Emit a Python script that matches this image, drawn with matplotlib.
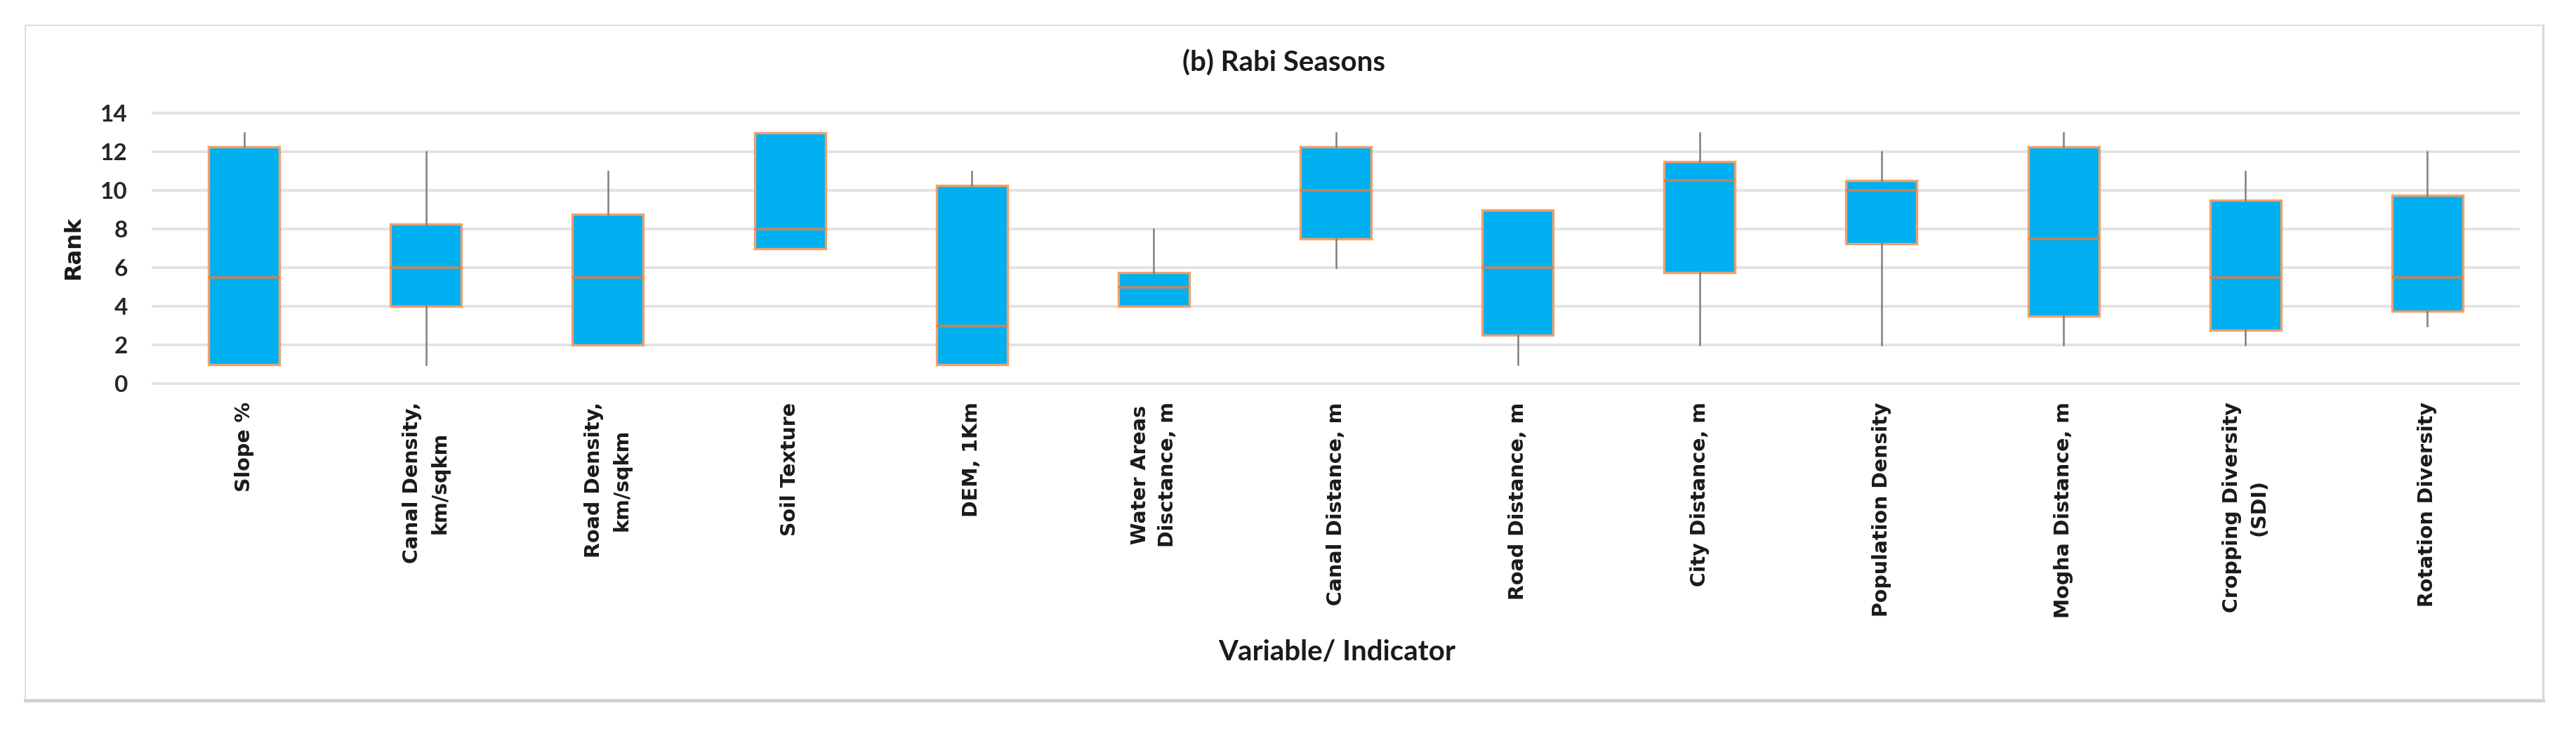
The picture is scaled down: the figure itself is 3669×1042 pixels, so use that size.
import matplotlib
matplotlib.use("Agg")
import matplotlib.pyplot as plt
from matplotlib.patches import Rectangle
from matplotlib.lines import Line2D

categories = ["Slope %", "Canal Density,\nkm/sqkm", "Road Density,\nkm/sqkm", "Soil Texture",
              "DEM, 1Km", "Water Areas\nDisctance, m", "Canal Distance, m", "Road Distance, m",
              "City Distance, m", "Population Density", "Mogha Distance, m",
              "Cropping Diversity\n(SDI)", "Rotation Diversity"]
whis_low = [1, 1, 2, 7, 1, 4, 6, 1, 2, 2, 2, 2, 3]
q1 = [1, 4, 2, 7, 1, 4, 7.5, 2.5, 5.75, 7.25, 3.5, 2.75, 3.75]
median = [5.5, 6, 5.5, 8, 3, 5, 10, 6, 10.5, 10, 7.5, 5.5, 5.5]
q3 = [12.25, 8.25, 8.75, 13, 10.25, 5.75, 12.25, 9, 11.5, 10.5, 12.25, 9.5, 9.75]
whis_high = [13, 12, 11, 13, 11, 8, 13, 9, 13, 12, 13, 11, 12]
yticks = [0, 2, 4, 6, 8, 10, 12, 14]

W, H = 3669, 1042
fig = plt.figure(figsize=(W / 100, H / 100), dpi=100)
fig.patch.set_facecolor("white")

# outer frame
fig.add_artist(Rectangle((36 / W, 1 - 997 / H), (3622 - 36) / W, (997 - 36) / H,
                         transform=fig.transFigure, fill=False, edgecolor="#D9D9D9", lw=1.2))
fig.add_artist(Line2D([36 / W, 3622 / W], [1 - 997 / H, 1 - 997 / H], transform=fig.transFigure,
                      color="#D0D0D0", lw=3.5))
fig.add_artist(Line2D([3622 / W, 3622 / W], [1 - 997 / H, 1 - 36 / H], transform=fig.transFigure,
                      color="#D9D9D9", lw=2.2))

ax = fig.add_axes([218 / W, 1 - 546 / H, (3587 - 218) / W, (546 - 161) / H])

stats = []
for i in range(len(categories)):
    stats.append(dict(whislo=whis_low[i], q1=q1[i], med=median[i], q3=q3[i],
                      whishi=whis_high[i], fliers=[], label=categories[i]))

ax.bxp(stats, positions=list(range(len(categories))), widths=0.39, patch_artist=True,
       showcaps=False, showfliers=False,
       boxprops=dict(facecolor="#00B0F0", edgecolor="#F0A06C", linewidth=2.4),
       medianprops=dict(color="#C0875E", linewidth=2.6),
       whiskerprops=dict(color="#7F7F7F", linewidth=1.8),
       zorder=3)

ax.set_xlim(-0.5, len(categories) - 0.5)
ax.set_ylim(0, 14)
ax.set_yticks(yticks)
ax.yaxis.grid(True, color="#E3E3E3", linewidth=2.8)
for gl in ax.get_ygridlines():
    gl.set_clip_on(False)
ax.set_axisbelow(True)
for s in ax.spines.values():
    s.set_visible(False)
ax.tick_params(axis="both", length=0)
ax.tick_params(axis="y", pad=26)
ax.tick_params(axis="x", pad=19)
for lab in ax.get_yticklabels():
    lab.set_fontfamily("Lato")
    lab.set_fontweight("bold")
    lab.set_fontsize(24)
    lab.set_color("#262626")
ax.set_xticklabels(categories, rotation=90, ha="center", va="top",
                   fontfamily="DejaVu Sans", fontweight="bold", fontsize=20.5,
                   linespacing=1.5, color="#1a1a1a")

fig.text(1828 / W, 1 - 90 / H, "(b) Rabi Seasons", ha="center", va="center",
         fontfamily="Lato", fontweight="bold", fontsize=29, color="#1a1a1a")
fig.text(105 / W, 1 - 353 / H, "Rank", rotation=90, ha="center", va="center",
         fontfamily="DejaVu Sans", fontweight="bold", fontsize=23, color="#1a1a1a")
fig.text(1904 / W, 1 - 929 / H, "Variable/ Indicator", ha="center", va="center",
         fontfamily="Lato", fontweight="bold", fontsize=29, color="#1a1a1a")

fig.savefig("out.png", dpi=100, facecolor="white")
